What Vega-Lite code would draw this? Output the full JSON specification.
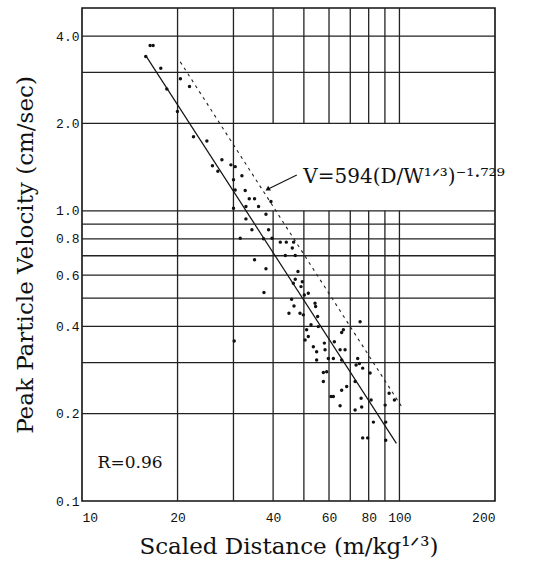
{
  "$schema": "https://vega.github.io/schema/vega-lite/v6.json",
  "width": 413,
  "height": 493,
  "autosize": {"type": "none"},
  "padding": {"left": 82, "top": 8, "right": 47, "bottom": 60},
  "background": "white",
  "config": {
    "view": {"stroke": "#111", "strokeWidth": 1.6},
    "axis": {"grid": false, "domain": false, "ticks": false, "labelColor": "#111", "titleColor": "#111", "labelFont": "Liberation Mono", "labelFontSize": 13, "titleFont": "DejaVu Serif", "titleFontSize": 23, "titleFontWeight": "normal"}
  },
  "datasets": {
    "pts": [
      {"d": 15.88, "v": 3.40}, {"d": 16.39, "v": 3.71}, {"d": 16.75, "v": 3.71}, {"d": 17.71, "v": 3.10},
      {"d": 18.50, "v": 2.63}, {"d": 19.98, "v": 2.20}, {"d": 20.42, "v": 2.85}, {"d": 21.81, "v": 2.68},
      {"d": 22.45, "v": 1.80}, {"d": 24.74, "v": 1.74}, {"d": 25.76, "v": 1.43}, {"d": 26.79, "v": 1.37},
      {"d": 27.59, "v": 1.50}, {"d": 29.45, "v": 1.44}, {"d": 30.38, "v": 1.42}, {"d": 30.01, "v": 1.28},
      {"d": 30.38, "v": 1.18}, {"d": 31.90, "v": 1.32}, {"d": 30.01, "v": 1.02}, {"d": 32.67, "v": 1.175},
      {"d": 33.64, "v": 1.10}, {"d": 34.96, "v": 1.10}, {"d": 32.84, "v": 1.035}, {"d": 35.99, "v": 1.035},
      {"d": 37.98, "v": 0.974}, {"d": 39.38, "v": 1.077}, {"d": 32.84, "v": 0.938}, {"d": 34.30, "v": 0.86},
      {"d": 31.51, "v": 0.805}, {"d": 37.32, "v": 0.801}, {"d": 38.70, "v": 0.86}, {"d": 39.68, "v": 0.805},
      {"d": 42.13, "v": 0.78}, {"d": 44.01, "v": 0.78}, {"d": 45.97, "v": 0.744}, {"d": 46.41, "v": 0.78},
      {"d": 43.70, "v": 0.701}, {"d": 46.97, "v": 0.701}, {"d": 34.96, "v": 0.678}, {"d": 37.98, "v": 0.631},
      {"d": 47.90, "v": 0.618}, {"d": 46.97, "v": 0.581}, {"d": 37.43, "v": 0.523}, {"d": 46.31, "v": 0.563},
      {"d": 48.97, "v": 0.548}, {"d": 49.43, "v": 0.570}, {"d": 50.15, "v": 0.513}, {"d": 51.63, "v": 0.520},
      {"d": 45.74, "v": 0.496}, {"d": 46.54, "v": 0.470}, {"d": 44.87, "v": 0.444}, {"d": 48.61, "v": 0.444},
      {"d": 49.79, "v": 0.438}, {"d": 54.21, "v": 0.480}, {"d": 54.45, "v": 0.468}, {"d": 55.25, "v": 0.432},
      {"d": 52.66, "v": 0.405}, {"d": 51.01, "v": 0.389}, {"d": 50.43, "v": 0.359}, {"d": 51.63, "v": 0.369},
      {"d": 55.53, "v": 0.399}, {"d": 30.16, "v": 0.356}, {"d": 53.55, "v": 0.340}, {"d": 54.85, "v": 0.327},
      {"d": 54.85, "v": 0.306}, {"d": 58.00, "v": 0.350}, {"d": 58.30, "v": 0.332}, {"d": 59.70, "v": 0.310},
      {"d": 57.59, "v": 0.277}, {"d": 58.99, "v": 0.279}, {"d": 57.59, "v": 0.258}, {"d": 62.37, "v": 0.354},
      {"d": 61.92, "v": 0.310}, {"d": 65.77, "v": 0.381}, {"d": 66.58, "v": 0.389}, {"d": 65.02, "v": 0.332},
      {"d": 67.41, "v": 0.332}, {"d": 65.77, "v": 0.306}, {"d": 60.89, "v": 0.229}, {"d": 61.92, "v": 0.229},
      {"d": 65.77, "v": 0.241}, {"d": 68.20, "v": 0.248}, {"d": 65.02, "v": 0.213}, {"d": 72.50, "v": 0.258},
      {"d": 73.02, "v": 0.294}, {"d": 73.88, "v": 0.310}, {"d": 74.79, "v": 0.298}, {"d": 75.17, "v": 0.415},
      {"d": 75.72, "v": 0.226}, {"d": 72.50, "v": 0.206}, {"d": 76.05, "v": 0.211}, {"d": 76.60, "v": 0.287},
      {"d": 76.60, "v": 0.165}, {"d": 79.43, "v": 0.165}, {"d": 80.83, "v": 0.276}, {"d": 81.42, "v": 0.223},
      {"d": 82.79, "v": 0.187}, {"d": 90.15, "v": 0.214}, {"d": 90.54, "v": 0.187}, {"d": 90.54, "v": 0.162},
      {"d": 92.79, "v": 0.235}, {"d": 96.43, "v": 0.223}
    ],
    "fit": [{"d": 15.9, "v": 3.42}, {"d": 97.8, "v": 0.158}],
    "bound": [{"d": 20.4, "v": 3.26}, {"d": 102.0, "v": 0.21}],
    "arrow": [{"d": 47.5, "v": 1.33}, {"d": 38.6, "v": 1.19}],
    "head": [{"d": 38.6, "v": 1.19}],
    "hgrid": [{"v": 4}, {"v": 3}, {"v": 2}, {"v": 1}, {"v": 0.9}, {"v": 0.8}, {"v": 0.7}, {"v": 0.6}, {"v": 0.5}, {"v": 0.4}, {"v": 0.3}, {"v": 0.2}],
    "vgrid": [
      {"d": 20, "lo": 0.1, "hi": 5}, {"d": 30, "lo": 0.1, "hi": 5},
      {"d": 40, "lo": 0.1, "hi": 1}, {"d": 50, "lo": 0.1, "hi": 1}, {"d": 60, "lo": 0.1, "hi": 1}, {"d": 70, "lo": 0.1, "hi": 1},
      {"d": 80, "lo": 0.1, "hi": 1}, {"d": 90, "lo": 0.1, "hi": 1}, {"d": 100, "lo": 0.1, "hi": 1},
      {"d": 40, "lo": 2, "hi": 5}, {"d": 50, "lo": 2, "hi": 5}, {"d": 60, "lo": 2, "hi": 5}, {"d": 70, "lo": 2, "hi": 5},
      {"d": 80, "lo": 2, "hi": 5}, {"d": 90, "lo": 2, "hi": 5}, {"d": 100, "lo": 2, "hi": 5}
    ],
    "eq": [{"d": 49.8, "v": 1.31, "t": "V=594(D/W¹ᐟ³)⁻¹·⁷²⁹"}],
    "rlab": [{"d": 11.2, "v": 0.135, "t": "R=0.96"}]
  },
  "layer": [
    {
      "data": {"name": "hgrid"},
      "mark": {"type": "rule", "color": "#222", "strokeWidth": 1.3},
      "encoding": {
        "y": {"field": "v", "type": "quantitative", "scale": {"type": "log", "domain": [0.1, 5], "nice": false}, "axis": {"values": [0.1, 0.2, 0.4, 0.6, 0.8, 1, 2, 4], "format": ".1f", "labelPadding": 3, "title": "Peak Particle Velocity (cm/sec)", "titlePadding": 18}}
      }
    },
    {
      "data": {"name": "vgrid"},
      "mark": {"type": "rule", "color": "#222", "strokeWidth": 1.3},
      "encoding": {
        "x": {"field": "d", "type": "quantitative", "scale": {"type": "log", "domain": [10, 200], "nice": false}, "axis": {"values": [10, 20, 40, 60, 80, 100, 200], "format": "d", "labelPadding": 10, "title": "Scaled Distance (m/kg¹ᐟ³)", "titlePadding": 11}},
        "y": {"field": "lo", "type": "quantitative"},
        "y2": {"field": "hi"}
      }
    },
    {
      "data": {"name": "fit"},
      "mark": {"type": "line", "color": "#111", "strokeWidth": 1.2},
      "encoding": {"x": {"field": "d", "type": "quantitative"}, "y": {"field": "v", "type": "quantitative"}}
    },
    {
      "data": {"name": "bound"},
      "mark": {"type": "line", "color": "#222", "strokeWidth": 1.1, "strokeDash": [3, 4]},
      "encoding": {"x": {"field": "d", "type": "quantitative"}, "y": {"field": "v", "type": "quantitative"}}
    },
    {
      "data": {"name": "arrow"},
      "mark": {"type": "line", "color": "#111", "strokeWidth": 1.1},
      "encoding": {"x": {"field": "d", "type": "quantitative"}, "y": {"field": "v", "type": "quantitative"}}
    },
    {
      "data": {"name": "head"},
      "mark": {"type": "point", "shape": "triangle", "angle": 239, "size": 30, "filled": true, "color": "#111", "opacity": 1},
      "encoding": {"x": {"field": "d", "type": "quantitative"}, "y": {"field": "v", "type": "quantitative"}}
    },
    {
      "data": {"name": "pts"},
      "mark": {"type": "circle", "size": 12, "color": "#111", "opacity": 1},
      "encoding": {"x": {"field": "d", "type": "quantitative"}, "y": {"field": "v", "type": "quantitative"}}
    },
    {
      "data": {"name": "eq"},
      "mark": {"type": "text", "align": "left", "baseline": "middle", "font": "DejaVu Serif", "fontSize": 20, "color": "#111"},
      "encoding": {"x": {"field": "d", "type": "quantitative"}, "y": {"field": "v", "type": "quantitative"}, "text": {"field": "t"}}
    },
    {
      "data": {"name": "rlab"},
      "mark": {"type": "text", "align": "left", "baseline": "middle", "font": "DejaVu Serif", "fontSize": 17, "color": "#111"},
      "encoding": {"x": {"field": "d", "type": "quantitative"}, "y": {"field": "v", "type": "quantitative"}, "text": {"field": "t"}}
    }
  ]
}
